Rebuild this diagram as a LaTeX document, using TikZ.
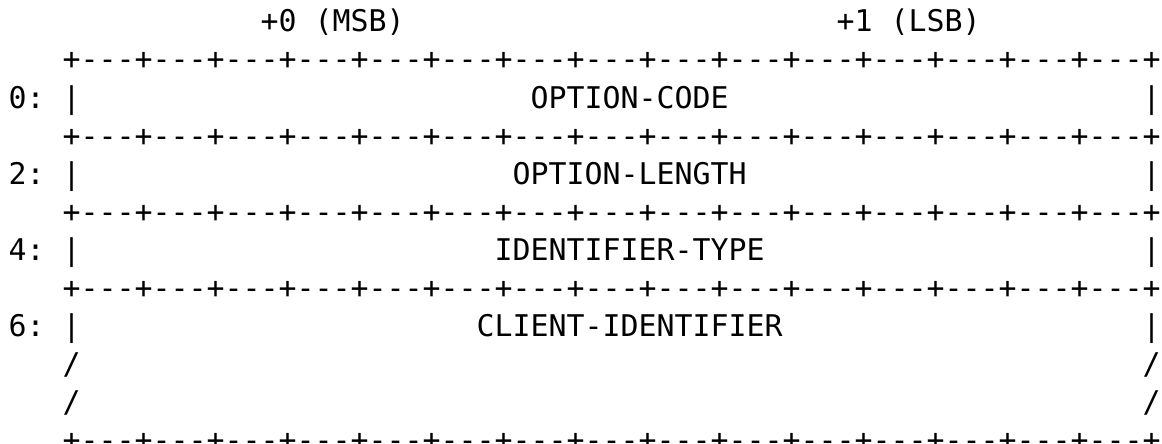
\documentclass[tikz,border=0pt]{standalone}
\usepackage{fontspec}
\setmonofont{DejaVu Sans Mono}
\begin{document}
\begin{tikzpicture}[x=1pt,y=-1pt,
  txt/.style={anchor=base west, inner sep=0pt, outer sep=0pt, text=black,
              font=\fontsize{29.9}{36}\selectfont\ttfamily}]
\def\cw{18}
\def\ox{8.7}
\def\oy{32}
\def\lh{38}
\useasboundingbox (0,0) rectangle (1162,444);
\clip (0,0) rectangle (1162,444);
% header
\node[txt] (msb) at ({\ox+14*\cw},{\oy}) {+0 (MSB)};
\node[txt] (lsb) at ({\ox+46*\cw},{\oy}) {+1 (LSB)};
% borders
\foreach \i/\n in {1/b1,3/b2,5/b3,7/b4,11/b5}{
  \node[txt] (\n) at ({\ox+3*\cw},{\oy+\i*\lh}) {+---+---+---+---+---+---+---+---+---+---+---+---+---+---+---+};
}
% rows
\foreach \i/\off/\c/\lab/\n in {2/0/29/OPTION-CODE/r0, 4/2/28/OPTION-LENGTH/r2, 6/4/27/IDENTIFIER-TYPE/r4, 8/6/26/CLIENT-IDENTIFIER/r6}{
  \node[txt] (\n off) at ({\ox},{\oy+\i*\lh}) {\off:};
  \node[txt] (\n l) at ({\ox+3*\cw},{\oy+\i*\lh}) {|};
  \node[txt] (\n t) at ({\ox+\c*\cw},{\oy+\i*\lh}) {\lab};
  \node[txt] (\n r) at ({\ox+63*\cw},{\oy+\i*\lh}) {|};
}
\foreach \i/\n in {9/s1,10/s2}{
  \node[txt] (\n l) at ({\ox+3*\cw},{\oy+\i*\lh}) {/};
  \node[txt] (\n r) at ({\ox+63*\cw},{\oy+\i*\lh}) {/};
}
\end{tikzpicture}
\end{document}
